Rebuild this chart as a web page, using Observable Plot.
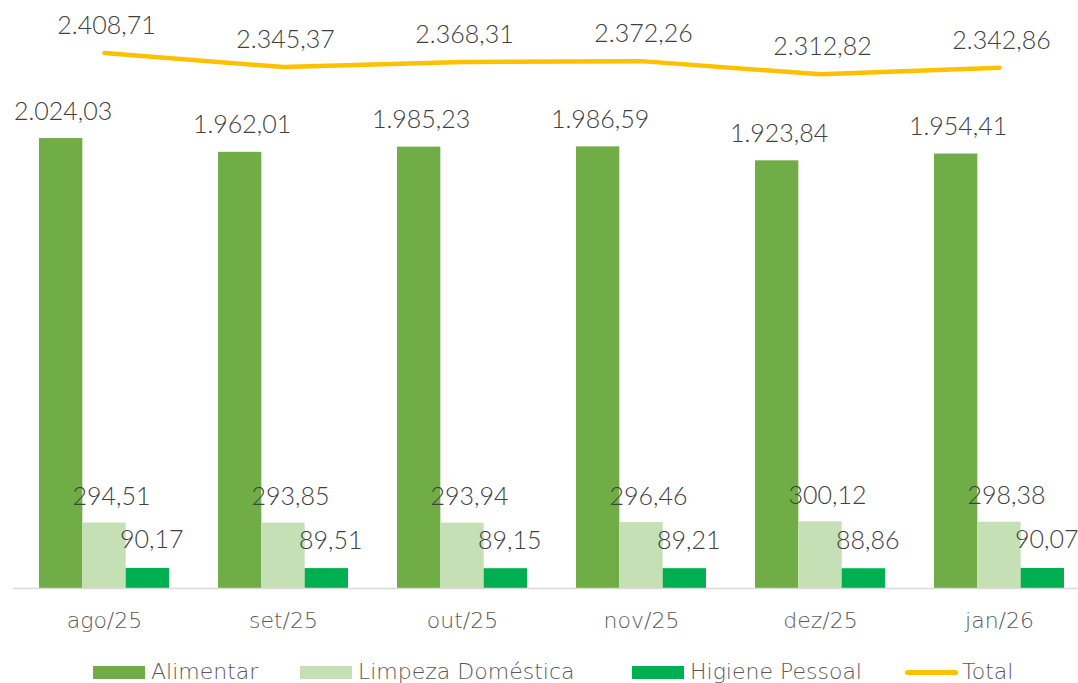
<!DOCTYPE html>
<html>
<head>
<meta charset="utf-8">
<script src="https://cdn.jsdelivr.net/npm/d3@7"></script>
<script src="https://cdn.jsdelivr.net/npm/@observablehq/plot@0.6"></script>
<style>
  html, body { margin: 0; padding: 0; background: #fff; }
  body { position: relative; width: 1078px; height: 683px; overflow: hidden; font-family: "DejaVu Sans", sans-serif; }
  #legend { position: absolute; top: 661px; left: 0; width: 1078px; height: 22px; font-size: 22px; font-weight: 200; color: #595959; white-space: nowrap; font-family: "DejaVu Sans", sans-serif; }
  .item { position: absolute; top: 0; display: flex; align-items: center; line-height: 22px; }
  .sw { width: 52px; height: 13px; margin-right: 6px; }
  .ln { width: 53px; height: 5px; border-radius: 3px; margin-right: 4px; }
</style>
</head>
<body>
<div id="chart"></div>
<div id="legend"></div>
<script>
const months = ["ago/25", "set/25", "out/25", "nov/25", "dez/25", "jan/26"];
const alimentar = [2024.03, 1962.01, 1985.23, 1986.59, 1923.84, 1954.41];
const limpeza = [294.51, 293.85, 293.94, 296.46, 300.12, 298.38];
const higiene = [90.17, 89.51, 89.15, 89.21, 88.86, 90.07];
const total = [2408.71, 2345.37, 2368.31, 2372.26, 2312.82, 2342.86];
const seriesNames = ["Alimentar", "Limpeza Doméstica", "Higiene Pessoal", "Total"];
const colors = ["#70ad47", "#c5e0b4", "#00b050", "#ffc000"];
const legendLeft = [93, 300, 632, 905];

const fmt = d3.formatLocale({decimal: ",", thousands: ".", grouping: [3], currency: ["R$", ""]}).format(",.2f");
const mk = (vals) => months.map((m, i) => ({month: m, value: vals[i]}));
const dA = mk(alimentar), dL = mk(limpeza), dH = mk(higiene), dT = mk(total);

const third = 130 / 3;
const labelFont = {fontSize: 25, fill: "#404040", fontFamily: "Lato, 'Open Sans', sans-serif", fontWeight: 300};

const chart = Plot.plot({
  width: 1078,
  height: 645,
  marginLeft: 13,
  marginRight: 0,
  marginTop: 10,
  marginBottom: 57,
  style: {fontFamily: "'DejaVu Sans', sans-serif", background: "#fff"},
  x: {domain: months, range: [13.4, 1088.6], paddingInner: 0.2746, paddingOuter: 0.1373, align: 0.5, label: null},
  y: {domain: [0, 2600], range: [588, 10], axis: null},
  marks: [
    Plot.barY(dA, {x: "month", y: "value", fill: colors[0], insetLeft: 0, insetRight: 2 * third}),
    Plot.barY(dL, {x: "month", y: "value", fill: colors[1], insetLeft: third, insetRight: third}),
    Plot.barY(dH, {x: "month", y: "value", fill: colors[2], insetLeft: 2 * third, insetRight: 0}),
    Plot.ruleY([0], {stroke: "#d9d9d9", strokeWidth: 1.5}),
    Plot.line(dT, {x: "month", y: "value", stroke: colors[3], strokeWidth: 4.5, strokeLinecap: "round"}),
    Plot.text(dA, {x: "month", y: "value", text: d => fmt(d.value), dx: -third + 2, dy: -27, ...labelFont}),
    Plot.text(dL, {x: "month", y: "value", text: d => fmt(d.value), dx: 7, dy: -26, ...labelFont}),
    Plot.text(dH, {x: "month", y: "value", text: d => fmt(d.value), dx: third + 4, dy: -28, ...labelFont}),
    Plot.text(dT, {x: "month", y: "value", text: d => fmt(d.value), dx: 2, dy: -27, ...labelFont}),
    Plot.axisX({tickSize: 0, tickPadding: 24, fontSize: 22, fontWeight: 200, fill: "#595959", label: null})
  ]
});
document.getElementById("chart").appendChild(chart);

const legend = document.getElementById("legend");
seriesNames.forEach((name, i) => {
  const item = document.createElement("div");
  item.className = "item";
  item.style.left = legendLeft[i] + "px";
  const sw = document.createElement("div");
  sw.className = i === 3 ? "ln" : "sw";
  sw.style.background = colors[i];
  const t = document.createElement("span");
  t.textContent = name;
  item.appendChild(sw);
  item.appendChild(t);
  legend.appendChild(item);
});
</script>
</body>
</html>
